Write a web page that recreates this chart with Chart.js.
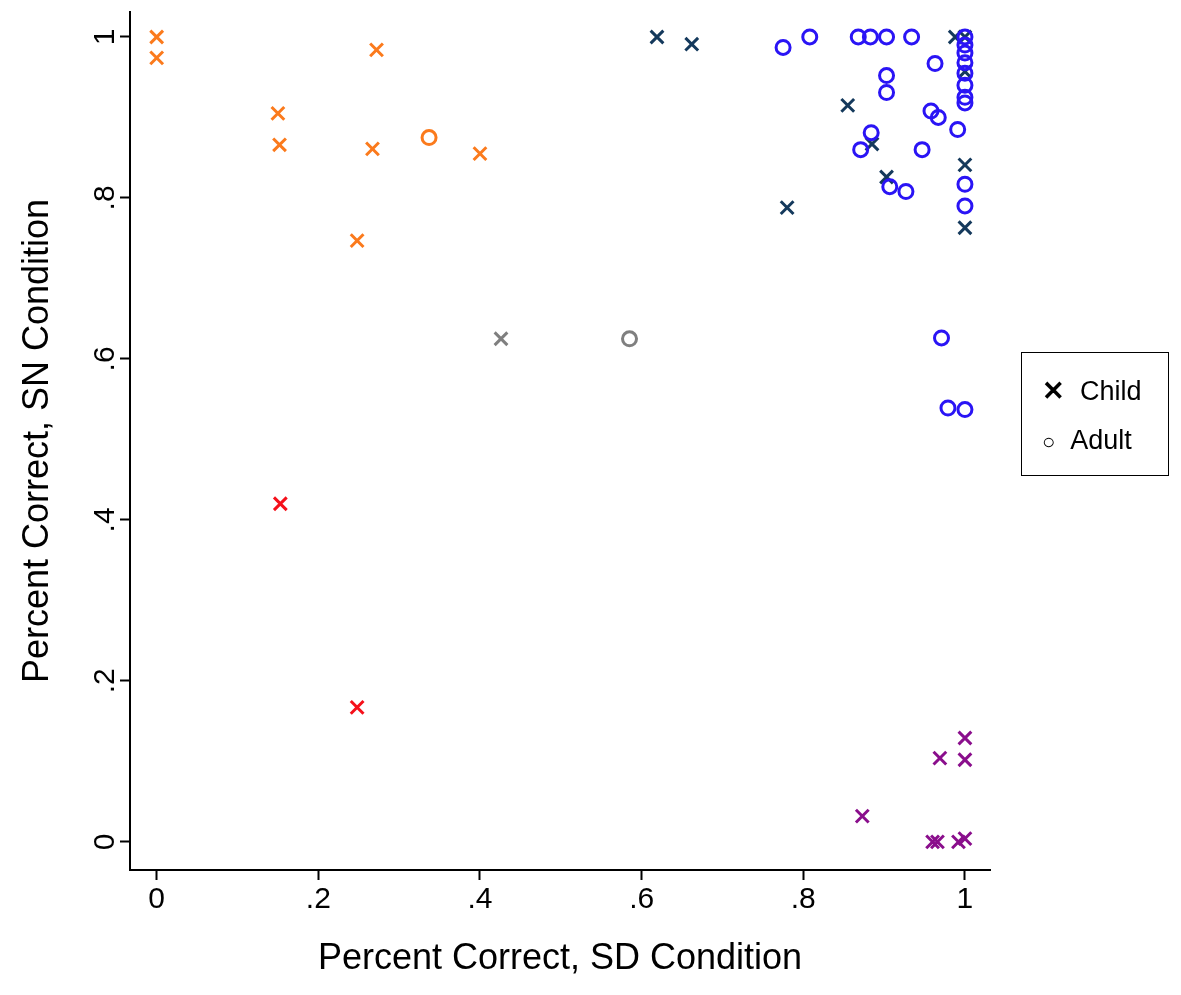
<!DOCTYPE html>
<html><head><meta charset="utf-8">
<script src="https://cdn.jsdelivr.net/npm/chart.js@4"></script>
<style>
body{margin:0;background:#fff;font-family:"Liberation Sans",Arial,sans-serif}
#wrap{position:relative;width:1181px;height:995px}
#legend{position:absolute;left:1021px;top:352px;width:148px;height:124px;border:1.5px solid #000;box-sizing:border-box;font-size:27px}
#legend div{position:absolute;left:20px}
</style></head><body>
<div id="wrap"><canvas id="c" width="1181" height="995"></canvas>
<div id="legend"><div style="top:22px"><b>&#x2715;</b>&nbsp;&nbsp;Child</div><div style="top:72px"><b style="font-size:22px">&#x25CB;</b>&nbsp;&nbsp;Adult</div></div></div>
<script>
// [x, y] pairs
const orangeChild = [[0,1],[0,.974],[.15,.905],[.152,.866],[.272,.984],[.267,.861],[.4,.855],[.248,.747]];
const orangeAdult = [[.337,.875]];
const grayChild = [[.426,.625]];
const grayAdult = [[.585,.625]];
const redChild = [[.153,.42],[.248,.167]];
const navyChild = [[.619,1],[.662,.991],[.78,.788],[.855,.915],[.885,.867],[.903,.826],[.988,1],[1,1],[1,.957],[1,.841],[1,.763]];
const blueAdult = [[.775,.987],[.808,1],[.868,1],[.883,1],[.903,1],[.934,1],[.963,.967],[.903,.952],[.903,.931],[.958,.908],[.967,.9],[.991,.885],[.871,.86],[.884,.881],[.947,.86],[.907,.814],[.927,.808],
  [1,1],[1,.99],[1,.98],[1,.968],[1,.955],[1,.94],[1,.925],[1,.918],[1,.817],[1,.79],[.971,.626],[.979,.539],[1,.537]];
const purpleChild = [[1,.129],[.969,.104],[1,.102],[.873,.032],[.96,0],[.966,0],[.992,0],[1,.004]];
const tickVals = [0,.2,.4,.6,.8,1];
const tickLabels = ['0','.2','.4','.6','.8','1'];

const mk = (d, color, style) => ({
  data: d.map(p => ({x: p[0], y: p[1]})),
  pointStyle: style, pointRadius: style === 'circle' ? 7 : 9,
  borderColor: color, backgroundColor: 'rgba(0,0,0,0)', pointBorderWidth: 3
});

const yLabels = {
  id: 'yLabels',
  afterDraw(chart) {
    const c = chart.ctx, s = chart.scales.y;
    c.save();
    c.fillStyle = '#000';
    c.font = '30px "Liberation Sans", Arial';
    c.textAlign = 'center';
    tickVals.forEach((v, i) => {
      c.save();
      c.translate(114, s.getPixelForValue(v));
      c.rotate(-Math.PI / 2);
      c.fillText(tickLabels[i], 0, 0);
      c.restore();
    });
    c.restore();
  }
};

const gridOpts = { display: true, drawOnChartArea: false, drawTicks: true, tickLength: 10, tickColor: '#000', tickWidth: 2 };

new Chart(document.getElementById('c'), {
  type: 'scatter',
  data: { datasets: [
    mk(orangeChild, '#fb7a1c', 'crossRot'), mk(orangeAdult, '#fb7a1c', 'circle'),
    mk(grayChild, '#7f7f7f', 'crossRot'), mk(grayAdult, '#7f7f7f', 'circle'),
    mk(redChild, '#f5101a', 'crossRot'), mk(blueAdult, '#2a14f5', 'circle'),
    mk(navyChild, '#14395c', 'crossRot'), mk(purpleChild, '#8a0e8c', 'crossRot')
  ]},
  options: {
    responsive: false, animation: false,
    layout: { padding: { top: 10, right: 191, left: 12, bottom: 10 } },
    plugins: { legend: { display: false }, tooltip: { enabled: false } },
    scales: {
      x: {
        min: -0.033, max: 1.031,
        afterBuildTicks: s => { s.ticks = tickVals.map(v => ({value: v})); },
        afterFit: s => { s.height = 115; },
        grid: gridOpts,
        border: { color: '#000', width: 2 },
        ticks: { color: '#000', font: { size: 30, family: '"Liberation Sans", Arial' }, padding: 2,
          callback: (v) => tickLabels[tickVals.indexOf(v)] },
        title: { display: true, text: 'Percent Correct, SD Condition', color: '#000',
          font: { size: 36, family: '"Liberation Sans", Arial' }, padding: { top: 0 } }
      },
      y: {
        min: -0.035, max: 1.031,
        afterBuildTicks: s => { s.ticks = tickVals.map(v => ({value: v})); },
        afterFit: s => { s.width = 118; },
        grid: gridOpts,
        border: { color: '#000', width: 2 },
        ticks: { callback: () => '' },
        title: { display: true, text: 'Percent Correct, SN Condition', color: '#000',
          font: { size: 36, family: '"Liberation Sans", Arial' }, padding: { bottom: 0 } }
      }
    }
  },
  plugins: [yLabels]
});
</script></body></html>
